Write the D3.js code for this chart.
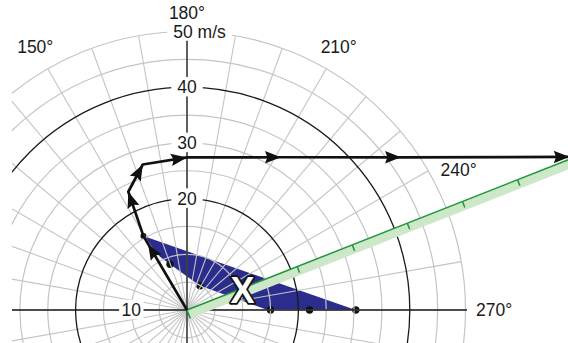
<!DOCTYPE html>
<html><head><meta charset="utf-8">
<script src="https://cdn.jsdelivr.net/npm/d3@7"></script>
<style>
html,body{margin:0;padding:0;background:#fff;}
svg{display:block;}
text{font-family:"Liberation Sans",Arial,Helvetica,sans-serif;}
</style></head><body>
<svg id="c" width="568" height="343"></svg>
<script>
// ---------------- data ----------------
const hodoDir   = [0, 149.5, 153.6, 163.1, 180, 211.6, 234.5, 248.2];
const hodoSpeed = [0, 15.4, 23.7, 27.3, 27.4, 32.2, 47.2, 74.0];
const dotDir    = [149.5, 159.6, 208.1, 270, 270, 270];
const dotSpeed  = [15.4, 8.75, 4.95, 15.0, 22.0, 30.3];
const areaDir   = [149.5, 153.1, 159.6, 208.1, 269.6, 270];
const areaSpeed = [15.4, 10.7, 8.75, 4.95, 14.2, 30.3];
const ringSpeeds = [5, 10, 15, 20, 25, 30, 35, 40, 45, 50];
const majorRings = [20, 40];
const spokeDirs = d3.range(0, 360, 10);
const ringLabelSpeeds = [10, 20, 30, 40, 50];
const ringLabelTexts  = ["10", "20", "30", "40", "50 m/s"];
const ringLabelDirs   = [90, 180, 180, 180, 180];
const dirLabelValues = [150, 180, 210, 240, 270];
const dirLabelTexts  = ["150°", "180°", "210°", "240°", "270°"];
const shearDir = 248.5;
const shearTicks = [1, 2, 3, 4, 5, 6, 7, 8];
const shearTickStep = 10.63;
const markerTick = 1;
const markerText = "X";

// ---------------- layout ----------------
const W = 568, H = 343, cx = 187, cy = 310;
const fs = 17.5;
const rScale = d3.scaleLinear().domain([0, 50]).range([0, 278.5]);
const aScale = d3.scaleLinear().domain([180, 360]).range([0, Math.PI]);
const rad = (dir, s) => d3.pointRadial(aScale(dir), rScale(s));
const P = (dir, s) => { const p = rad(dir, s); return [cx + p[0], cy + p[1]]; };

const svg = d3.select("#c");
svg.append("defs").append("clipPath").attr("id", "clip")
  .append("rect").attr("x", 12).attr("y", 0).attr("width", W - 12).attr("height", H);

const plot = svg.append("g").attr("clip-path", "url(#clip)");
const g = plot.append("g").attr("transform", `translate(${cx},${cy})`);

// blue area
const areaPts = areaDir.map((d, i) => ({dir: d, s: areaSpeed[i]}));
g.append("path").datum(areaPts)
  .attr("d", d3.lineRadial().angle(d => aScale(d.dir)).radius(d => rScale(d.s)).curve(d3.curveLinearClosed))
  .attr("fill", "#2b2d8e");

// dots
const dots = dotDir.map((d, i) => ({dir: d, s: dotSpeed[i]}));
g.selectAll("circle.dot").data(dots).join("circle").attr("class", "dot")
  .attr("cx", d => rad(d.dir, d.s)[0]).attr("cy", d => rad(d.dir, d.s)[1])
  .attr("r", (d, i) => i === 0 ? 3 : 3.7).attr("fill", "#111");

// grid
const gridCol = "#c4c4c4";
g.selectAll("circle.ring").data(ringSpeeds.filter(s => !majorRings.includes(s))).join("circle")
  .attr("class", "ring").attr("r", d => rScale(d)).attr("fill", "none")
  .attr("stroke", gridCol).attr("stroke-width", 1.2);
g.selectAll("line.spoke").data(spokeDirs).join("line").attr("class", "spoke")
  .attr("x1", 0).attr("y1", 0)
  .attr("x2", d => rad(d, 50)[0]).attr("y2", d => rad(d, 50)[1])
  .attr("stroke", gridCol).attr("stroke-width", 1.1);
g.selectAll("circle.major").data(majorRings).join("circle")
  .attr("class", "major").attr("r", d => rScale(d)).attr("fill", "none")
  .attr("stroke", "#1a1a1a").attr("stroke-width", 1.3);
// axes
const rEnd = rScale(50) + 1.5;
g.append("line").attr("x1", rad(90, 60)[0]).attr("y1", 0).attr("x2", rEnd).attr("y2", 0)
  .attr("stroke", "#1a1a1a").attr("stroke-width", 1.3);
g.append("line").attr("x1", 0).attr("y1", -rScale(50)).attr("x2", 0).attr("y2", rScale(50))
  .attr("stroke", "#1a1a1a").attr("stroke-width", 1.3);

// green shear band
const band = g.append("g").attr("transform", `rotate(${shearDir - 270})`);
const bandLen = rScale(100), bandW = 9;
band.append("rect").attr("x", 0).attr("y", 0).attr("width", bandLen).attr("height", bandW)
  .attr("fill", "#cce8c8");
band.append("path").attr("d", `M${bandLen},0H0V${bandW}`).attr("fill", "none")
  .attr("stroke", "#23963c").attr("stroke-width", 1.5);
band.selectAll("line.tick").data(shearTicks).join("line").attr("class", "tick")
  .attr("x1", d => rScale(d * shearTickStep)).attr("x2", d => rScale(d * shearTickStep))
  .attr("y1", 0).attr("y2", 6.5).attr("stroke", "#23963c").attr("stroke-width", 1.5);

// hodograph line
const hodo = hodoDir.map((d, i) => ({dir: d, s: hodoSpeed[i]}));
g.append("path").datum(hodo)
  .attr("d", d3.lineRadial().angle(d => aScale(d.dir)).radius(d => rScale(d.s)))
  .attr("fill", "none").attr("stroke", "#111").attr("stroke-width", 2.7)
  .attr("stroke-linejoin", "round");
// arrowheads
const heads = [];
for (let i = 1; i < hodo.length; i++) {
  const a = rad(hodo[i - 1].dir, hodo[i - 1].s), b = rad(hodo[i].dir, hodo[i].s);
  const dx = b[0] - a[0], dy = b[1] - a[1], len = Math.hypot(dx, dy);
  const ux = dx / len, uy = dy / len;
  const hasDot = dots.some(d => Math.abs(d.dir - hodo[i].dir) < 0.01 && Math.abs(d.s - hodo[i].s) < 0.01);
  const back = hasDot ? 9 : 0;
  const tx = b[0] - ux * back, ty = b[1] - uy * back;
  const L = 16, hw = 6.2;
  heads.push([[tx, ty], [tx - ux * L - uy * hw, ty - uy * L + ux * hw], [tx - ux * L * 0.85, ty - uy * L * 0.85], [tx - ux * L + uy * hw, ty - uy * L - ux * hw]]);
}
g.selectAll("path.head").data(heads).join("path").attr("class", "head")
  .attr("d", d => "M" + d.map(p => p.join(",")).join("L") + "Z").attr("fill", "#111");

// ---------------- labels ----------------
const lab = svg.append("g");
function measure(txt, size, weight) {
  const t = lab.append("text").attr("font-size", size).attr("font-weight", weight || "normal").text(txt);
  const w = t.node().getComputedTextLength(); t.remove(); return w;
}
const capH = 0.716 * fs;
// ring labels with white boxes
ringLabelSpeeds.forEach((s, i) => {
  const p = P(ringLabelDirs[i], s);
  const txt = ringLabelTexts[i];
  const w = measure(txt, fs);
  let x0;
  if (txt.indexOf(" ") > 0) { const w0 = measure(txt.split(" ")[0], fs); x0 = p[0] - w0 / 2 - 4; }
  else x0 = p[0] - w / 2;
  const base = p[1] + capH / 2;
  const padX = ringLabelDirs[i] === 90 ? 2.5 : 6;
  lab.append("rect").attr("x", x0 - padX).attr("y", base - capH - 4).attr("width", w + 2 * padX)
    .attr("height", capH + 7).attr("fill", "#fff");
  lab.append("text").attr("x", x0).attr("y", base).attr("font-size", fs).attr("fill", "#1a1a1a").text(txt);
});
// direction labels
const labelNudge = {240: [5, 14], 180: [0, -2.5]};
dirLabelValues.forEach((d, i) => {
  const txt = dirLabelTexts[i];
  const w = measure(txt, fs);
  const a = aScale(d);
  const rl = 289 + Math.abs(Math.sin(a)) * w / 2 + Math.abs(Math.cos(a)) * capH / 2;
  const p = d3.pointRadial(a, rl);
  const n = labelNudge[d] || [0, 0];
  lab.append("text").attr("x", cx + p[0] + n[0]).attr("y", cy + p[1] + capH / 2 + n[1])
    .attr("text-anchor", "middle").attr("font-size", fs).attr("fill", "#1a1a1a").text(txt);
});
// X marker
const mp = P(shearDir, markerTick * shearTickStep);
lab.append("text").attr("x", mp[0] + 0.5).attr("y", mp[1] + 0.358 * 36 + 1.5)
  .attr("text-anchor", "middle").attr("font-size", 36).attr("font-weight", "bold")
  .attr("fill", "#fff").attr("stroke", "#111").attr("stroke-width", 3.6)
  .attr("stroke-linejoin", "round").style("paint-order", "stroke").text(markerText);
</script>
</body></html>
